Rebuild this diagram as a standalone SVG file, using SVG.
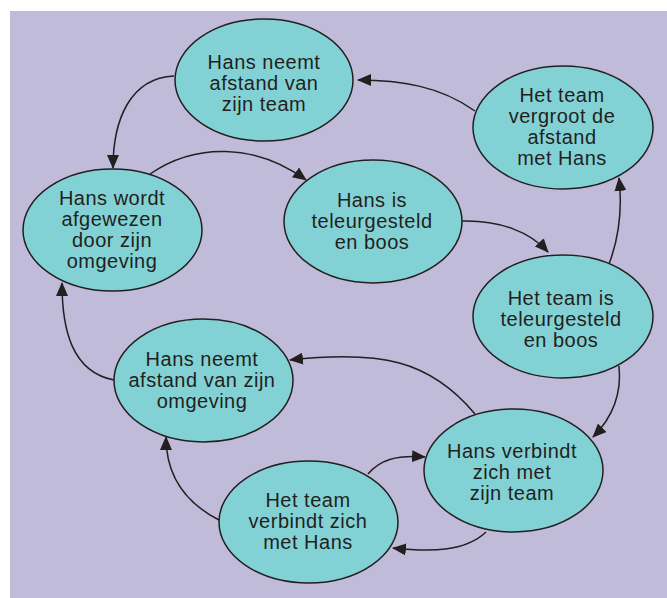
<svg xmlns="http://www.w3.org/2000/svg" width="667" height="598" viewBox="0 0 667 598">
<defs>
<style>
.bg{fill:#bfbbd9}
.node ellipse{fill:#82d2d5;stroke:#231f20;stroke-width:1.5}
.node text{font-family:"Liberation Sans","DejaVu Sans",sans-serif;font-size:20px;letter-spacing:0.5px;fill:#231f20;text-anchor:middle}
.conn path{fill:none;stroke:#231f20;stroke-width:1.5;marker-end:url(#arr)}
</style>
<marker id="arr" markerUnits="userSpaceOnUse" viewBox="0 0 14 12" refX="13" refY="6" markerWidth="14" markerHeight="12" orient="auto">
<path d="M0,0 L14,6 L0,12 Z" fill="#231f20"/>
</marker>
</defs>
<rect class="bg" x="10" y="11" width="657" height="587"/>
<g id="connectors" class="conn">
<path d="M174,76 C130,78 113,120 113,168"/>
<path d="M150,174 C195,143 255,143 306,180"/>
<path d="M475,111 C440,86 400,80 358,80"/>
<path d="M462,221 C500,220 530,232 548,252"/>
<path d="M609,264 C620,235 622,205 619,178"/>
<path d="M619,366 C622,395 612,418 593,437"/>
<path d="M475,414 C430,360 380,350 290,360"/>
<path d="M114,380 C72,372 62,330 62,283"/>
<path d="M219,520 C180,500 166,470 166,437"/>
<path d="M368,474 C380,460 395,455 425,457"/>
<path d="M486,532 C465,552 430,552 393,548"/>
</g>
<g id="n1" class="node">
<ellipse cx="264" cy="80" rx="89" ry="61"/>
<text x="264" y="69">Hans neemt</text>
<text x="264" y="90">afstand van</text>
<text x="264" y="111">zijn team</text>
</g>
<g id="n2" class="node">
<ellipse cx="563" cy="127.5" rx="90" ry="61.5"/>
<text x="562" y="102">Het team</text>
<text x="562" y="123">vergroot de</text>
<text x="562" y="144">afstand</text>
<text x="562" y="165">met Hans</text>
</g>
<g id="n3" class="node">
<ellipse cx="112.5" cy="230" rx="89.5" ry="61"/>
<text x="112" y="205">Hans wordt</text>
<text x="112" y="226">afgewezen</text>
<text x="112" y="247">door zijn</text>
<text x="112" y="268">omgeving</text>
</g>
<g id="n4" class="node">
<ellipse cx="373" cy="221.5" rx="89" ry="61.5"/>
<text x="372" y="207">Hans is</text>
<text x="372" y="228">teleurgesteld</text>
<text x="372" y="249">en boos</text>
</g>
<g id="n5" class="node">
<ellipse cx="563" cy="316.5" rx="90" ry="61.5"/>
<text x="561" y="305">Het team is</text>
<text x="561" y="326">teleurgesteld</text>
<text x="561" y="347">en boos</text>
</g>
<g id="n6" class="node">
<ellipse cx="203.5" cy="380.5" rx="89.5" ry="61.5"/>
<text x="202" y="366">Hans neemt</text>
<text x="202" y="387">afstand van zijn</text>
<text x="202" y="408">omgeving</text>
</g>
<g id="n7" class="node">
<ellipse cx="513.5" cy="470.5" rx="89.5" ry="61.5"/>
<text x="512" y="458">Hans verbindt</text>
<text x="512" y="479">zich met</text>
<text x="512" y="500">zijn team</text>
</g>
<g id="n8" class="node">
<ellipse cx="308.5" cy="522" rx="89.5" ry="61"/>
<text x="308" y="507">Het team</text>
<text x="308" y="528">verbindt zich</text>
<text x="308" y="549">met Hans</text>
</g>
</svg>
